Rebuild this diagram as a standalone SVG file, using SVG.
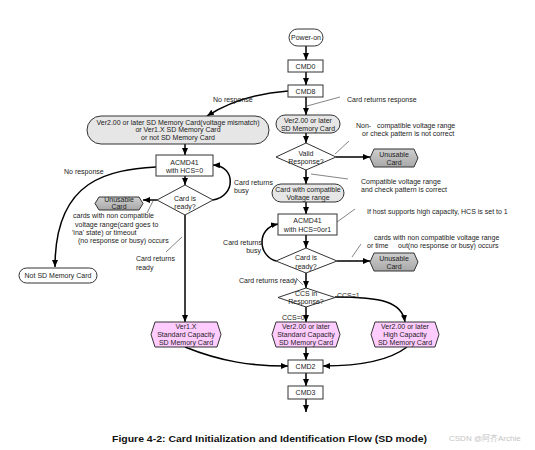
<svg xmlns="http://www.w3.org/2000/svg" width="535" height="450" viewBox="0 0 535 450">
<style>
text{font-family:"Liberation Sans",Arial,sans-serif;font-size:7px;fill:#222;white-space:pre}
.c{text-anchor:middle}
.e{text-anchor:end}
.pill{fill:#e6e6e6;stroke:#333;stroke-width:1}
.box{fill:#fff;stroke:#333;stroke-width:1}
.dia{fill:#fff;stroke:#333;stroke-width:1}
.un{fill:url(#ug);stroke:#333;stroke-width:1}
.pk{fill:#ffccff;stroke:#333;stroke-width:1}
.ln{fill:none;stroke:#000;stroke-width:1.5;marker-end:url(#ah)}
.ld{fill:none;stroke:#333;stroke-width:0.6}
</style>
<defs>
<linearGradient id="ug" x1="0" y1="0" x2="0" y2="1"><stop offset="0" stop-color="#cfcfcf"/><stop offset="1" stop-color="#a8a8a8"/></linearGradient>
<marker id="ah" markerUnits="userSpaceOnUse" markerWidth="8" markerHeight="7" refX="7" refY="3" orient="auto"><path d="M0,0 L7,3 L0,6 z" fill="#000"/></marker>
</defs>
<rect width="535" height="450" fill="#fff"/>

<g id="connectors">
<path class="ln" d="M306,46 V60"/>
<path class="ln" d="M306,72 V85"/>
<path class="ln" d="M306,97 V115"/>
<path class="ln" d="M306,133 V143"/>
<path class="ln" d="M306,170 V184"/>
<path class="ln" d="M306,202 V214"/>
<path class="ln" d="M306,235 V248"/>
<path class="ln" d="M306,273 V288"/>
<path class="ln" d="M306,307 V322"/>
<path class="ln" d="M306,347 V360"/>
<path class="ln" d="M306,373 V386"/>
<path class="ln" d="M306,399 V412"/>
<path class="ln" d="M336,157 H370"/>
<path class="ln" d="M337,261 H370"/>
<path class="ln" d="M276,261 C258,256 256,228 278,224"/>
<path class="ln" d="M335,297 C382,297 402,302 405,322"/>
<path class="ln" d="M288,91 C260,93 232,100 207,116"/>
<path class="ln" d="M185,144 V155"/>
<path class="ln" d="M185,176 V185"/>
<path class="ln" d="M213,200 C236,196 236,166 213,165"/>
<path class="ln" d="M157,200 H143"/>
<path class="ln" d="M156,167 C110,170 55,178 55,267"/>
<path class="ln" d="M185,215 V322"/>
<path class="ln" d="M185,347 C222,362 252,366 288,366"/>
<path class="ln" d="M407,347 C390,360 360,366 323,366"/>
<path class="ld" d="M340,97 L307,106"/>
<path class="ld" d="M349,141 L335,154"/>
<path class="ld" d="M348,179 L311,174"/>
<path class="ld" d="M355,209 L337,222"/>
<path class="ld" d="M361,244 L352,257"/>
<path class="ld" d="M147,213 L153,201"/>
<path class="ld" d="M166,252 L182,237"/>
<path class="ld" d="M296,278 L303,285"/>
</g>

<g id="power-on"><rect class="pill" x="289" y="29" width="34" height="17" rx="8.5" fill="#fff" style="fill:#fff"/><text class="c" x="306" y="40">Power-on</text></g>
<g id="cmd0"><rect class="box" x="288" y="60" width="35" height="12"/><text class="c" x="305.5" y="68.5">CMD0</text></g>
<g id="cmd8"><rect class="box" x="288" y="85" width="35" height="12"/><text class="c" x="305.5" y="93.5">CMD8</text></g>
<g id="ver2-later"><rect class="pill" x="276" y="115" width="64" height="18" rx="9"/><text class="c" x="308" y="123">Ver2.00 or later</text><text class="c" x="308" y="131">SD Memory Card</text></g>
<g id="valid-response"><polygon class="dia" points="306,143 336,157 306,170 276,157"/><text class="c" x="306" y="156">Valid</text><text class="c" x="306" y="164">Response?</text></g>
<g id="unusable-1"><polygon class="un" points="374,149 414,149 418,158 414,167 374,167 370,158"/><text class="c" x="394" y="157">Unusable</text><text class="c" x="394" y="165">Card</text></g>
<g id="compatible-card"><rect class="pill" x="272" y="184" width="72" height="18" rx="9"/><text class="c" x="308" y="192">Card with compatible</text><text class="c" x="308" y="200">Voltage range</text></g>
<g id="acmd41-hcs01"><rect class="box" x="278" y="214" width="59" height="21"/><text class="c" x="307.5" y="223">ACMD41</text><text class="c" x="307.5" y="232">with HCS=0or1</text></g>
<g id="ready-right"><polygon class="dia" points="306,248 337,261 306,273 276,261"/><text class="c" x="306" y="260">Card is</text><text class="c" x="306" y="269">ready?</text></g>
<g id="unusable-2"><polygon class="un" points="374,253 414,253 418,262 414,271 374,271 370,262"/><text class="c" x="394" y="261">Unusable</text><text class="c" x="394" y="269">Card</text></g>
<g id="ccs"><polygon class="dia" points="306,288 335,297.5 306,307 278,297.5"/><text class="c" x="306" y="296">CCS in</text><text class="c" x="306" y="304">Response?</text></g>
<g id="ver2-standard"><polygon class="pk" points="276,322 336,322 340,334.5 336,347 276,347 272,334.5"/><text class="c" x="306" y="329">Ver2.00 or later</text><text class="c" x="306" y="337">Standard Capacity</text><text class="c" x="306" y="345">SD Memory Card</text></g>
<g id="ver2-high"><polygon class="pk" points="375,322 435,322 439,334.5 435,347 375,347 371,334.5"/><text class="c" x="405" y="329">Ver2.00 or later</text><text class="c" x="405" y="337">High Capacity</text><text class="c" x="405" y="345">SD Memory Card</text></g>
<g id="ver1x"><polygon class="pk" points="155,322 217,322 221,334.5 217,347 155,347 151,334.5"/><text class="c" x="186" y="329">Ver1.X</text><text class="c" x="186" y="337">Standard Capacity</text><text class="c" x="186" y="345">SD Memory Card</text></g>
<g id="cmd2"><rect class="box" x="288" y="360" width="35" height="13"/><text class="c" x="305.5" y="369">CMD2</text></g>
<g id="cmd3"><rect class="box" x="288" y="386" width="35" height="13"/><text class="c" x="305.5" y="395">CMD3</text></g>
<g id="voltage-mismatch"><rect class="pill" x="87" y="116" width="182" height="28" rx="14"/><text class="c" x="178" y="124.5">Ver2.00 or later SD Memory Card(voltage mismatch)</text><text class="c" x="178" y="132">or Ver1.X SD Memory Card</text><text class="c" x="178" y="139.5">or not SD Memory Card</text></g>
<g id="acmd41-hcs0"><rect class="box" x="156" y="155" width="57" height="21"/><text class="c" x="184.5" y="164.5">ACMD41</text><text class="c" x="184.5" y="172.5">with HCS=0</text></g>
<g id="ready-left"><polygon class="dia" points="185,185 213,200 185,215 157,200"/><text class="c" x="185" y="201">Card is</text><text class="c" x="185" y="209">ready?</text></g>
<g id="unusable-3"><polygon class="un" points="99,197 139,197 143,203.5 139,210 99,210 95,203.5"/><text class="c" x="119" y="202">Unusable</text><text class="c" x="119" y="209">Card</text></g>
<g id="not-sd"><rect class="pill" x="19" y="268" width="78" height="15" rx="7.5" style="fill:#fff"/><text class="c" x="58" y="278">Not SD Memory Card</text></g>

<g id="labels">
<text x="347" y="101.5">Card returns response</text>
<text x="356" y="127.5">Non-   compatible voltage range</text>
<text x="362" y="135.5">or check pattern is not correct</text>
<text x="361" y="183.5">Compatible voltage range</text>
<text x="361" y="191.5">and check pattern is correct</text>
<text x="367" y="213.5">If host supports high capacity, HCS is set to 1</text>
<text x="374" y="239.5">cards with non compatible voltage range</text>
<text x="367" y="247.5">or time     out(no response or busy) occurs</text>
<text class="e" x="262" y="244.5">Card returns</text>
<text class="e" x="261" y="252.5">busy</text>
<text x="239" y="282.5">Card returns ready</text>
<text x="282" y="319.5">CCS=0</text>
<text x="337" y="297.5">CCS=1</text>
<text x="213" y="101.5">No response</text>
<text x="64" y="174">No response</text>
<text x="234" y="184.5">Card returns</text>
<text x="234" y="192.5">busy</text>
<text x="73" y="217.5">cards with non compatible</text>
<text x="75" y="226.5">voltage range(card goes to</text>
<text x="72" y="234.5">'ina' state) or timeout</text>
<text x="78" y="242.5">(no response or busy) occurs</text>
<text x="136" y="260.5">Card returns</text>
<text x="136" y="269.5">ready</text>
<text x="112" y="441.5" style="font-size:9.5px;font-weight:bold;fill:#111" textLength="315" lengthAdjust="spacingAndGlyphs">Figure 4-2: Card Initialization and Identification Flow (SD mode)</text>
<text x="449" y="441" style="font-size:8px;fill:#c4c4c4;font-family:'Liberation Sans','Noto Sans CJK SC',sans-serif">CSDN @阿齐Archie</text>
</g>
</svg>
